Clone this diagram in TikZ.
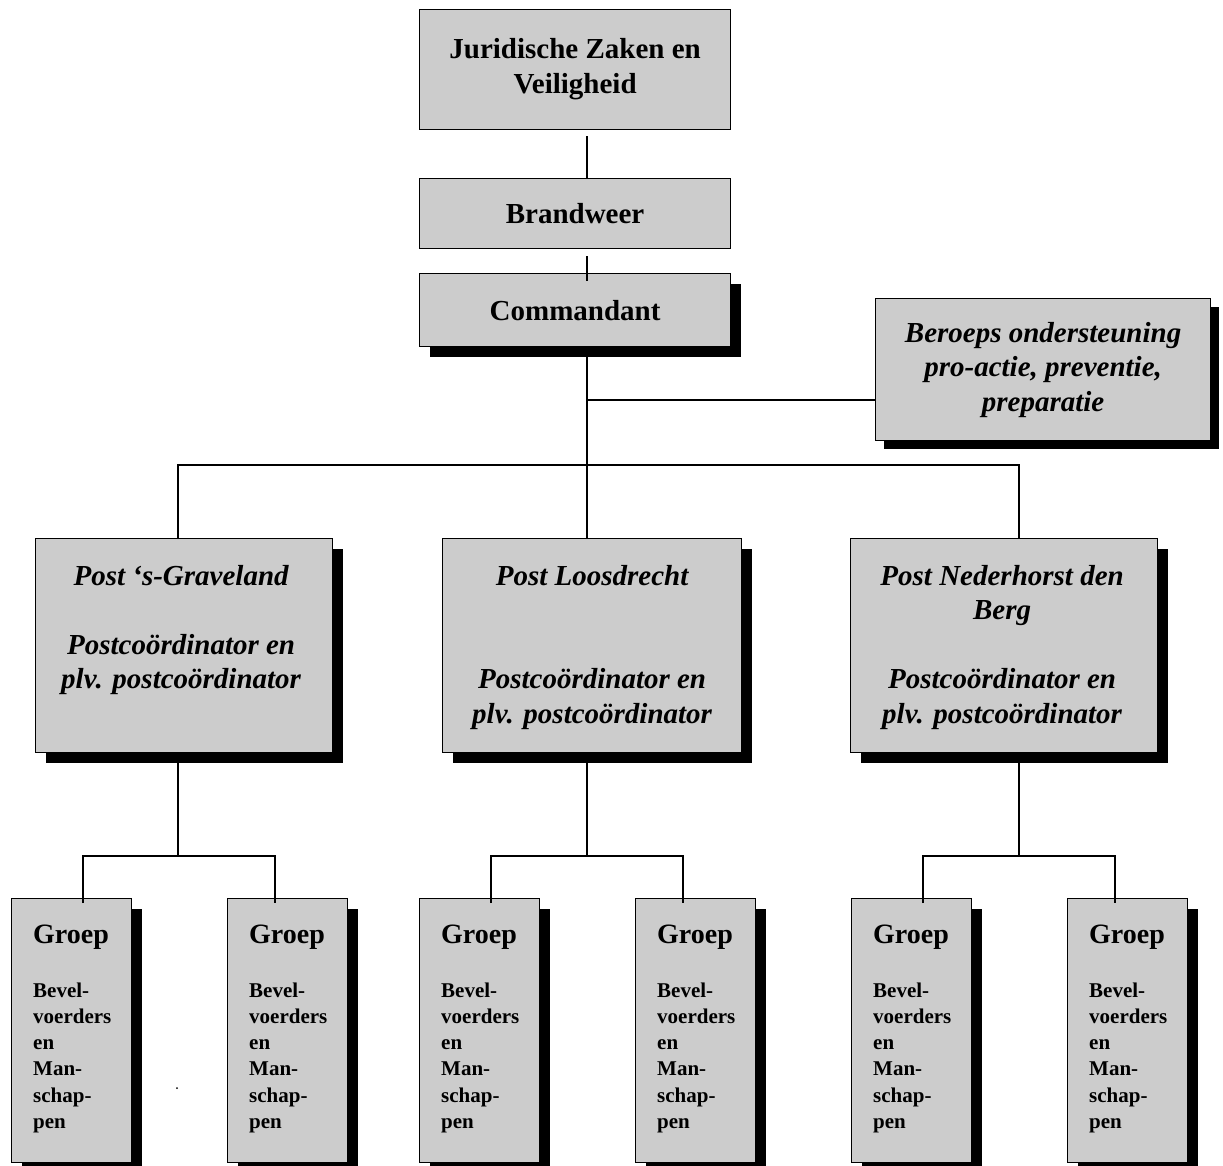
\documentclass[tikz,border=0pt]{standalone}
\usepackage{fontspec}
\setmainfont{Liberation Serif}
\usetikzlibrary{shadows}
\definecolor{boxfill}{RGB}{204,204,204}
\begin{document}
\begin{tikzpicture}[x=1pt,y=-1pt,
  box/.style={draw=black, line width=1.2pt, fill=boxfill, rectangle, inner sep=0pt, anchor=north west},
  shad/.style={drop shadow={shadow xshift=10pt, shadow yshift=-10pt, fill=black, opacity=1}},
  conn/.style={line width=1.5pt},
  toptext/.style={font=\fontsize{29}{35}\selectfont\bfseries, align=center},
  italtext/.style={font=\fontsize{29}{34.5}\selectfont\bfseries\itshape, align=center},
  posttext/.style={italtext, anchor=north, inner sep=0pt},
  groeptext/.style={font=\fontsize{21}{26.3}\selectfont\bfseries, align=left, anchor=north west, inner sep=0pt}
]
\useasboundingbox[fill=white] (0,0) rectangle (1223,1166);

% top boxes
\node[box, toptext, minimum width=311pt, minimum height=120pt] (jz) at (419,9) {Juridische Zaken en\\Veiligheid};
\node[box, toptext, minimum width=311pt, minimum height=70pt] (bw) at (419,178) {Brandweer};
\node[box, shad, toptext, minimum width=311pt, minimum height=73pt] (cm) at (419,273) {Commandant};
\node[box, italtext, minimum width=335pt, minimum height=142pt, drop shadow={shadow xshift=8pt, shadow yshift=-8pt, fill=black, opacity=1}] (br) at (875,298) {Beroeps ondersteuning\\pro-actie, preventie,\\preparatie};

% post boxes
\node[box, shad, minimum width=297pt, minimum height=214pt] (p1) at (35,538) {};
\node[box, shad, minimum width=299pt, minimum height=214pt] (p2) at (442,538) {};
\node[box, shad, minimum width=307pt, minimum height=214pt] (p3) at (850,538) {};
\node[posttext] (p1t) at ([xshift=-3pt,yshift=-27pt]p1.north) {Post ‘s-Graveland\\[34.5pt]Postcoördinator en\\plv. postcoördinator};
\node[posttext] (p2t) at ([yshift=-27pt]p2.north) {Post Loosdrecht\\[69pt]Postcoördinator en\\plv. postcoördinator};
\node[posttext] (p3t) at ([xshift=-2pt,yshift=-27pt]p3.north) {Post Nederhorst den\\Berg\\[34.5pt]Postcoördinator en\\plv. postcoördinator};

% groep boxes
\foreach \n/\x in {1/11,2/227,3/419,4/635,5/851,6/1067}{
  \node[box, shad, minimum width=120pt, minimum height=264pt] (g\n) at (\x,898) {};
  \node[groeptext] (g\n t) at ([xshift=22pt,yshift=-27pt]g\n.north west)
    {{\fontsize{28}{34}\selectfont Groep}\\[27pt]Bevel-\\voerders\\en\\Man-\\schap-\\pen};
}

% connector coordinates
\coordinate (tx) at (587,0);
\coordinate (j1) at (587,400);
\coordinate (bl) at (178,465);
\coordinate (bq) at (1019,465);
\coordinate (s1) at (178,856);
\coordinate (s2) at (587,856);
\coordinate (s3) at (1019,856);
\coordinate (h1a) at (83,856);  \coordinate (h1b) at (275,856);
\coordinate (h2a) at (491,856); \coordinate (h2b) at (683,856);
\coordinate (h3a) at (923,856); \coordinate (h3b) at (1115,856);

\draw[conn, shorten <=6pt] (jz.south -| tx) -- (bw.north -| tx);
\draw[conn, shorten <=7pt, shorten >=-8pt] (bw.south -| tx) -- (cm.north -| tx);
\draw[conn] (cm.south -| tx) -- (p2.north -| tx);
\draw[conn] (j1) -- (j1 -| br.west);
\draw[conn] (p1.north -| bl) -- (bl) -- (bq) -- (p3.north -| bq);

\draw[conn] (p1.south -| s1) -- (s1);
\draw[conn] (p2.south -| s2) -- (s2);
\draw[conn] (p3.south -| s3) -- (s3);
\draw[conn, shorten <=-5pt, shorten >=-5pt] (g1.north -| h1a) -- (h1a) -- (h1b) -- (g2.north -| h1b);
\draw[conn, shorten <=-5pt, shorten >=-5pt] (g3.north -| h2a) -- (h2a) -- (h2b) -- (g4.north -| h2b);
\draw[conn, shorten <=-5pt, shorten >=-5pt] (g5.north -| h3a) -- (h3a) -- (h3b) -- (g6.north -| h3b);

% stray dot
\fill (177,1088) circle (1pt);
\end{tikzpicture}
\end{document}
